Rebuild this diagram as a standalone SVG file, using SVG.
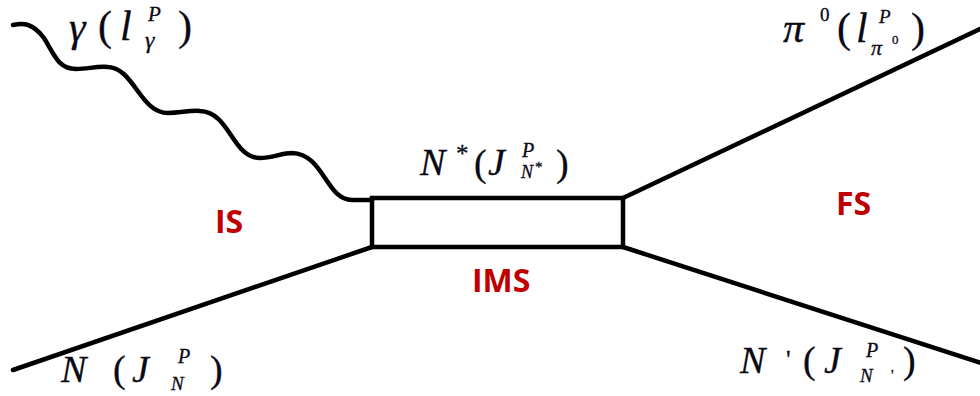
<svg xmlns="http://www.w3.org/2000/svg" width="980" height="396" viewBox="0 0 980 396">
<style>
.ln{fill:none;stroke:#000;stroke-width:4.5;stroke-linecap:round;stroke-linejoin:miter}
.m{font-family:"Liberation Serif","Times New Roman",serif;font-style:italic;fill:#0a0a14;stroke:#0a0a14;stroke-width:0.3}
.u{font-style:normal}
.r{font-family:"Open Sans","Liberation Sans",sans-serif;font-weight:700;font-size:32px;fill:#c00000}
</style>
<rect width="980" height="396" fill="#fff"/>
<g id="connectors">
<path class="ln" d="M13,25 C22,23 32,22 44,38 C54,54 58,69 76,69 C88,69 96,66 108,67 C134,68 140,113 168,113 C180,113 190,110 200,111 C230,112 232,158 260,158 C272,158 282,153 292,153 C324,154 326,200 352,200 L372,200"/>
<line class="ln" x1="13" y1="370" x2="372" y2="247"/>
<line class="ln" x1="623" y1="198" x2="984" y2="27"/>
<line class="ln" x1="623" y1="247" x2="984" y2="364"/>
</g>
<g id="nstar">
<rect class="ln" x="372" y="198" width="251" height="49"/>
<text class="m" font-size="38" y="175"><tspan x="420">N</tspan><tspan class="u" font-size="25" x="456" y="162">*</tspan><tspan class="u" x="474" y="176">(</tspan><tspan x="488" y="175">J</tspan><tspan font-size="20" x="522" y="157">P</tspan><tspan font-size="18" x="521" y="178">N</tspan><tspan class="u" font-size="15" x="535" y="172">*</tspan><tspan class="u" font-size="38" x="556" y="176">)</tspan></text>
</g>
<g id="gamma">
<text class="m" font-size="42" y="41"><tspan x="69">γ</tspan><tspan class="u" x="98" y="40">(</tspan><tspan x="120" y="40">l</tspan><tspan font-size="21" x="148" y="21">P</tspan><tspan font-size="24" x="145" y="48">γ</tspan><tspan class="u" x="178" y="40">)</tspan></text>
</g>
<g id="pi0">
<text class="m" font-size="42" y="42"><tspan x="783">π</tspan><tspan class="u" font-size="19" x="820" y="21">0</tspan><tspan class="u" x="837" y="42">(</tspan><tspan x="856">l</tspan><tspan font-size="19" x="879" y="23">P</tspan><tspan font-size="22" x="871" y="55">π</tspan><tspan class="u" font-size="13" x="892" y="44">0</tspan><tspan class="u" x="911" y="42">)</tspan></text>
</g>
<g id="nucleon">
<text class="m" font-size="38" y="382"><tspan x="61">N</tspan><tspan class="u" x="113">(</tspan><tspan x="132">J</tspan><tspan font-size="20" x="178" y="363">P</tspan><tspan font-size="19" x="171" y="390">N</tspan><tspan class="u" x="210" y="382">)</tspan></text>
</g>
<g id="nucleon-out">
<text class="m" font-size="38" y="373"><tspan x="740">N</tspan><tspan class="u" font-size="26" x="786" y="368">'</tspan><tspan class="u" x="803" y="373">(</tspan><tspan x="824">J</tspan><tspan font-size="20" x="866" y="357">P</tspan><tspan font-size="19" x="860" y="382">N</tspan><tspan class="u" font-size="15" x="891" y="380">'</tspan><tspan class="u" x="903" y="373">)</tspan></text>
</g>
<g id="IS"><text class="r" x="215" y="233">IS</text></g>
<g id="IMS"><text class="r" x="472" y="292">IMS</text></g>
<g id="FS"><text class="r" x="836" y="215">FS</text></g>
</svg>
